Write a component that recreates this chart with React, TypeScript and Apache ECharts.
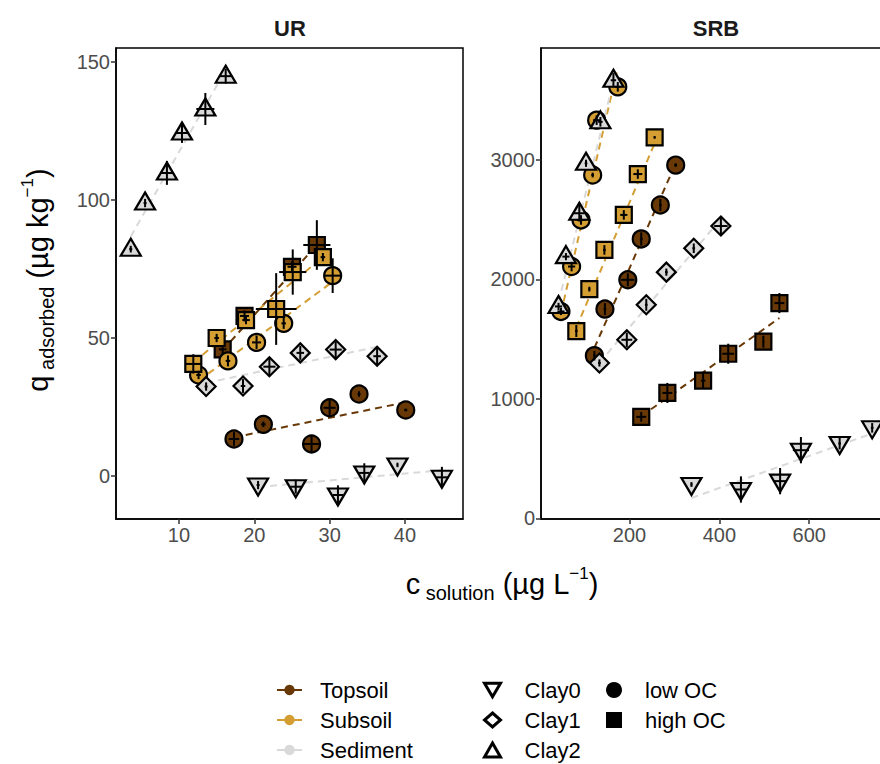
import React, { useEffect, useRef } from 'react';
import * as echarts from 'echarts';

// Each point: [c_solution, q_adsorbed, x error, y error]
type Pt = [number, number, number, number];
type Seg = [number, number][];

// ---------------- UR panel ----------------
const urTopsoilLowOC: Pt[] = [
  [17.3, 13.4, 0.7, 2.5], [21.2, 18.7, 0.3, 1.0], [27.6, 11.6, 1.0, 3.0],
  [30.0, 24.7, 0.8, 3.0], [33.9, 29.7, 0.2, 1.0], [40.1, 23.9, 0.2, 0.5],
];
const urTopsoilHighOC: Pt[] = [
  [15.8, 45.9, 0.5, 1.5], [18.7, 58.0, 0.6, 2.0], [25.0, 75.8, 0.6, 2.0], [28.3, 83.7, 1.8, 9.0],
];
const urSubsoilLowOC: Pt[] = [
  [12.6, 36.6, 0.3, 1.5], [16.5, 41.7, 0.3, 2.0], [20.3, 48.4, 0.6, 2.5],
  [23.9, 55.3, 0.3, 2.0], [30.4, 72.6, 1.1, 6.3],
];
const urSubsoilHighOC: Pt[] = [
  [11.9, 40.6, 1.0, 3.5], [15.0, 50.0, 0.3, 1.5], [18.9, 56.5, 0.5, 1.5],
  [22.9, 60.5, 2.7, 13.0], [25.1, 73.9, 1.8, 8.2], [29.1, 79.3, 0.3, 1.5],
];
const urClay0: Pt[] = [
  [20.5, -3.3, 0.2, 1.5], [25.5, -3.9, 0.7, 2.5], [31.1, -6.9, 0.7, 3.5],
  [34.6, 1.1, 0.7, 3.5], [39.0, 4.0, 0.1, 0.8], [44.9, -0.5, 0.9, 3.8],
];
const urClay1: Pt[] = [
  [13.6, 32.4, 0.2, 1.5], [18.5, 32.6, 0.3, 2.5], [22.0, 39.6, 0.8, 3.0],
  [26.1, 44.6, 0.5, 2.5], [30.8, 45.8, 0.8, 3.0], [36.3, 43.4, 0.5, 3.0],
];
const urClay2: Pt[] = [
  [3.6, 82.2, 0.2, 1.2], [5.5, 98.9, 0.2, 1.5], [8.4, 109.8, 0.9, 4.3],
  [10.4, 124.3, 0.9, 3.6], [13.5, 133.0, 1.2, 5.8], [16.2, 144.9, 0.9, 2.7],
];
// fitted trend lines (end points)
const urTopsoilLowOCFit: Seg = [[17.3, 14.0], [40.1, 26.7]];
const urTopsoilHighOCFit: Seg = [[15.8, 45.5], [28.3, 83.8]];
const urSubsoilLowOCFit: Seg = [[12.6, 34.5], [30.4, 70.4]];
const urSubsoilHighOCFit: Seg = [[11.9, 41.2], [29.1, 79.2]];
const urClay0Fit: Seg = [[20.5, -4.0], [44.9, 2.1]];
const urClay1Fit: Seg = [[13.6, 33.7], [36.3, 46.8]];
const urClay2Fit: Seg = [[3.6, 86.8], [16.2, 147.1]];

// ---------------- SRB panel ----------------
const srbTopsoilLowOC: Pt[] = [
  [121.8, 1362, 3, 40], [145.3, 1752, 3, 50], [196.2, 1997, 15, 55],
  [226.1, 2339, 3, 55], [268.6, 2623, 3, 50], [302.8, 2957, 3, 15],
];
const srbTopsoilHighOC: Pt[] = [
  [226.1, 850, 11, 40], [284.2, 1050, 11, 84], [363.8, 1153, 5, 65],
  [419.7, 1378, 13, 84], [497.9, 1479, 2, 50], [533.6, 1802, 11, 84],
];
const srbSubsoilLowOC: Pt[] = [
  [47.4, 1732, 8, 30], [71.1, 2108, 8, 40], [92.1, 2498, 10, 40],
  [118.0, 2874, 3, 20], [126.9, 3333, 8, 40], [173.9, 3612, 6, 40],
];
const srbSubsoilHighOC: Pt[] = [
  [81.6, 1568, 3, 50], [110.6, 1919, 2, 20], [144.1, 2247, 3, 40],
  [187.3, 2540, 8, 40], [218.5, 2882, 10, 40], [255.9, 3189, 2, 10],
];
const srbClay0: Pt[] = [
  [337.9, 284, 2, 20], [448.0, 242, 15, 110], [535.2, 312, 15, 110],
  [581.5, 571, 18, 110], [667.7, 627, 3, 50], [740.1, 758, 3, 40],
];
const srbClay1: Pt[] = [
  [133.0, 1301, 3, 30], [194.0, 1495, 12, 60], [237.3, 1788, 3, 50],
  [282.0, 2061, 3, 30], [343.0, 2261, 3, 40], [403.4, 2447, 15, 70],
];
const srbClay2: Pt[] = [
  [42.0, 1774, 8, 30], [58.5, 2191, 8, 30], [88.3, 2554, 12, 70],
  [103.2, 2972, 3, 30], [135.2, 3319, 5, 40], [164.2, 3667, 6, 60],
];
const srbTopsoilLowOCFit: Seg = [[121.8, 1427], [302.8, 2971]];
const srbTopsoilHighOCFit: Seg = [[226.1, 855], [533.6, 1677]];
const srbSubsoilLowOCFit: Seg = [[47.4, 1718], [173.9, 3774]];
const srbSubsoilHighOCFit: Seg = [[81.6, 1596], [255.9, 3139]];
const srbClay0Fit: Seg = [[337.9, 171], [740.1, 711]];
const srbClay1Fit: Seg = [[133.0, 1301], [403.4, 2507]];
const srbClay2Fit: Seg = [[42.0, 1807], [164.2, 3659]];

// tick labels
const urXTicks = [10, 20, 30, 40];
const urYTicks = [0, 50, 100, 150];
const srbXTicks = [200, 400, 600];
const srbYTicks = [0, 1000, 2000, 3000];

const panelNames = ['UR', 'SRB'];
const soilLegend = ['Topsoil', 'Subsoil', 'Sediment'];
const clayLegend = ['Clay0', 'Clay1', 'Clay2'];
const ocLegend = ['low OC', 'high OC'];

// ---------------- styles ----------------
const FONT = '"Liberation Sans", Arial, Helvetica, sans-serif';
const COLORS: Record<string, string> = { Topsoil: '#683807', Subsoil: '#D49E33', Sediment: '#D9D9D9' };
const DOWN_TRI = 'path://M0,0L20,0L10,17Z';
const SHAPES: Record<string, { symbol: string; size: number | number[]; offset: number[] }> = {
  'low OC': { symbol: 'circle', size: 17, offset: [0, 0] },
  'high OC': { symbol: 'rect', size: 16, offset: [0, 0] },
  Clay0: { symbol: DOWN_TRI, size: [20, 17], offset: [0, 2] },
  Clay1: { symbol: 'diamond', size: 19, offset: [0, 0] },
  Clay2: { symbol: 'triangle', size: [20, 17], offset: [0, -2] },
};

interface Group { panel: number; soil: string; shape: string; pts: Pt[]; fit: Seg; }
const groups: Group[] = [
  { panel: 0, soil: 'Topsoil', shape: 'low OC', pts: urTopsoilLowOC, fit: urTopsoilLowOCFit },
  { panel: 0, soil: 'Topsoil', shape: 'high OC', pts: urTopsoilHighOC, fit: urTopsoilHighOCFit },
  { panel: 0, soil: 'Subsoil', shape: 'low OC', pts: urSubsoilLowOC, fit: urSubsoilLowOCFit },
  { panel: 0, soil: 'Subsoil', shape: 'high OC', pts: urSubsoilHighOC, fit: urSubsoilHighOCFit },
  { panel: 0, soil: 'Sediment', shape: 'Clay0', pts: urClay0, fit: urClay0Fit },
  { panel: 0, soil: 'Sediment', shape: 'Clay1', pts: urClay1, fit: urClay1Fit },
  { panel: 0, soil: 'Sediment', shape: 'Clay2', pts: urClay2, fit: urClay2Fit },
  { panel: 1, soil: 'Topsoil', shape: 'low OC', pts: srbTopsoilLowOC, fit: srbTopsoilLowOCFit },
  { panel: 1, soil: 'Topsoil', shape: 'high OC', pts: srbTopsoilHighOC, fit: srbTopsoilHighOCFit },
  { panel: 1, soil: 'Subsoil', shape: 'low OC', pts: srbSubsoilLowOC, fit: srbSubsoilLowOCFit },
  { panel: 1, soil: 'Subsoil', shape: 'high OC', pts: srbSubsoilHighOC, fit: srbSubsoilHighOCFit },
  { panel: 1, soil: 'Sediment', shape: 'Clay0', pts: srbClay0, fit: srbClay0Fit },
  { panel: 1, soil: 'Sediment', shape: 'Clay1', pts: srbClay1, fit: srbClay1Fit },
  { panel: 1, soil: 'Sediment', shape: 'Clay2', pts: srbClay2, fit: srbClay2Fit },
];

function buildOption(): any {
  const axisCommon = (ticks: number[]) => ({
    type: 'value',
    splitLine: { show: false },
    axisLine: { show: true, onZero: false, lineStyle: { color: '#000', width: 1.5 } },
    axisTick: { show: true, length: 5, customValues: ticks, lineStyle: { color: '#333', width: 1.5 } },
    axisLabel: {
      customValues: ticks, color: '#4D4D4D', fontSize: 20, fontFamily: FONT, margin: 6,
      formatter: (v: number) => String(v),
    },
  });

  const series: any[] = [];
  groups.forEach((g) => {
    series.push({
      type: 'line',
      name: `${panelNames[g.panel]} ${g.soil} ${g.shape} trend`,
      xAxisIndex: g.panel, yAxisIndex: g.panel,
      data: g.fit, symbol: 'none', silent: true, z: 2,
      lineStyle: { color: COLORS[g.soil], width: 2, type: [7, 5] },
    });
  });
  groups.forEach((g) => {
    const s = SHAPES[g.shape];
    series.push({
      type: 'scatter',
      name: `${panelNames[g.panel]} ${g.soil} ${g.shape}`,
      xAxisIndex: g.panel, yAxisIndex: g.panel,
      data: g.pts.map((p) => [p[0], p[1]]),
      symbol: s.symbol, symbolSize: s.size, symbolOffset: s.offset, z: 3,
      itemStyle: { color: COLORS[g.soil], borderColor: '#000', borderWidth: 2.2, opacity: 1 },
    });
  });
  groups.forEach((g) => {
    series.push({
      type: 'custom',
      name: `${panelNames[g.panel]} ${g.soil} ${g.shape} error`,
      xAxisIndex: g.panel, yAxisIndex: g.panel, z: 4, silent: true,
      dimensions: ['x', 'y', 'xe', 'ye'],
      encode: { x: 'x', y: 'y' },
      data: g.pts,
      renderItem: (params: any, api: any) => {
        const x = api.value(0), y = api.value(1), xe = api.value(2), ye = api.value(3);
        const a = api.coord([x - xe, y]), b = api.coord([x + xe, y]);
        const c = api.coord([x, y - ye]), d = api.coord([x, y + ye]);
        const st = { stroke: '#000', lineWidth: 2 };
        return {
          type: 'group',
          children: [
            { type: 'line', shape: { x1: a[0], y1: a[1], x2: b[0], y2: b[1] }, style: st },
            { type: 'line', shape: { x1: c[0], y1: c[1], x2: d[0], y2: d[1] }, style: st },
          ],
        };
      },
    });
  });

  // legend-only series
  soilLegend.forEach((n) => series.push({
    type: 'line', name: n, data: [], xAxisIndex: 0, yAxisIndex: 0, symbol: 'circle',
    itemStyle: { color: COLORS[n], opacity: 1 }, lineStyle: { color: COLORS[n], width: 2 },
  }));
  clayLegend.forEach((n) => series.push({
    type: 'scatter', name: n, data: [], xAxisIndex: 0, yAxisIndex: 0, symbol: SHAPES[n].symbol,
    itemStyle: { color: '#fff', borderColor: '#000', borderWidth: 3, opacity: 1 },
  }));
  ocLegend.forEach((n) => series.push({
    type: 'scatter', name: n, data: [], xAxisIndex: 0, yAxisIndex: 0, symbol: SHAPES[n].symbol,
    itemStyle: { color: '#000', opacity: 1 },
  }));

  const legendText = (pad: number) => ({
    fontSize: 22, fontFamily: FONT, color: '#000', lineHeight: 22, padding: [0, 0, 0, pad],
  });

  const rich = (big: number) => ({
    m: { fontSize: big, fontFamily: FONT, fill: '#000', lineHeight: 38, verticalAlign: 'middle' },
    s: { fontSize: 20, fontFamily: FONT, fill: '#000', lineHeight: 20, verticalAlign: 'bottom' },
    p: { fontSize: 17, fontFamily: FONT, fill: '#000', lineHeight: 17, verticalAlign: 'top' },
  });

  return {
    animation: false,
    backgroundColor: '#fff',
    grid: [
      { left: 116, top: 48, width: 347, height: 471, show: true, borderColor: '#000', borderWidth: 1.5, outerBoundsMode: 'none', containLabel: false },
      { left: 541, top: 48, width: 350, height: 471, show: true, borderColor: '#000', borderWidth: 1.5, outerBoundsMode: 'none', containLabel: false },
    ],
    xAxis: [
      { ...axisCommon(urXTicks), gridIndex: 0, min: 1.64, max: 47.7 },
      { ...axisCommon(srbXTicks), gridIndex: 1, min: 3, max: 782 },
    ],
    yAxis: [
      { ...axisCommon(urYTicks), gridIndex: 0, min: -15.6, max: 155.1 },
      { ...axisCommon(srbYTicks), gridIndex: 1, min: -5, max: 3937 },
    ],
    legend: [
      {
        data: soilLegend, orient: 'vertical', left: 276, top: 679, padding: 0, itemWidth: 25, itemHeight: 13,
        itemGap: 8, selectedMode: false, textStyle: legendText(13), itemStyle: { borderWidth: 0 },
      },
      {
        data: clayLegend, orient: 'vertical', left: 483, top: 679, padding: 0, itemWidth: 16, itemHeight: 14,
        itemGap: 8, selectedMode: false, textStyle: legendText(19), itemStyle: { borderWidth: 3, borderColor: '#000' },
      },
      {
        data: ocLegend, orient: 'vertical', left: 606, top: 679, padding: 0, itemWidth: 16, itemHeight: 16,
        itemGap: 8, selectedMode: false, textStyle: legendText(18), itemStyle: { borderWidth: 0 },
      },
    ],
    graphic: [
      { type: 'text', x: 290, y: 28, style: { text: panelNames[0], font: `bold 22px ${FONT}`, fill: '#1A1A1A', align: 'center', verticalAlign: 'middle' } },
      { type: 'text', x: 716, y: 28, style: { text: panelNames[1], font: `bold 22px ${FONT}`, fill: '#1A1A1A', align: 'center', verticalAlign: 'middle' } },
      {
        type: 'text', x: 38, y: 280, rotation: Math.PI / 2,
        style: { text: '{m|q}{s| adsorbed}{m| (µg kg}{p|−1}{m|)}', align: 'center', verticalAlign: 'middle', rich: rich(29) },
      },
      {
        type: 'text', x: 502, y: 584,
        style: { text: '{m|c}{s| solution}{m| (µg L}{p|−1}{m|)}', align: 'center', verticalAlign: 'middle', rich: rich(29) },
      },
    ],
    series,
  };
}

export default function App() {
  const ref = useRef<HTMLDivElement>(null);
  useEffect(() => {
    if (!ref.current) return;
    const chart = echarts.init(ref.current, undefined, { renderer: 'svg' });
    chart.setOption(buildOption());
    return () => chart.dispose();
  }, []);
  return (
    <div
      ref={ref}
      style={{ position: 'fixed', left: 0, top: 0, width: 880, height: 764, background: '#fff' }}
    />
  );
}
